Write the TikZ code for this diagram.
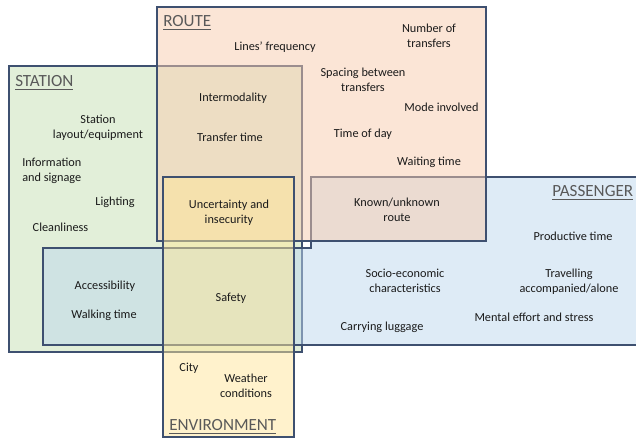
\documentclass[tikz,border=0pt]{standalone}
\usepackage{fontspec}
\setmainfont{Carlito}
\definecolor{edgec}{HTML}{3E5070}
\definecolor{stationc}{HTML}{C5E0B4}
\definecolor{routec}{HTML}{F8CBAD}
\definecolor{passc}{HTML}{BDD7EE}
\definecolor{envc}{HTML}{FFE699}
\definecolor{txt}{HTML}{1A1A1A}
\definecolor{headc}{HTML}{595959}
\begin{document}
\begin{tikzpicture}[x=0.75pt,y=-0.75pt,
  region/.style={draw=edgec, line width=0.9pt, fill opacity=0.5},
  lbl/.style={font=\fontsize{9.2}{11.25}\selectfont, text=txt, align=center, inner sep=0pt},
  head/.style={font=\fontsize{12.8}{15}\selectfont, text=headc, anchor=base west, inner sep=0pt}]
\useasboundingbox (0,0) rectangle (636,438);
\clip (0,0) rectangle (636,438);
% regions
\draw[region, fill=stationc] (9,66) rectangle (302,352);
\draw[region, fill=passc] (311,177) -- (660,177) -- (660,345) -- (43,345) -- (43,248) -- (311,248) -- cycle;
\draw[region, fill=routec] (157,7) rectangle (486,241);
\draw[region, fill=envc] (163,177) rectangle (294,437);
% headings
\node[head] (hroute) at (163,27) {\underline{ROUTE}};
\node[head] (hstation) at (15,87) {\underline{STATION}};
\node[head] (hpass) at (552,197) {\underline{PASSENGER}};
\node[head] (henv) at (169,431) {\underline{ENVIRONMENT}};
% route
\node[lbl] (freq) at (275,47) {Lines’ frequency};
\node[lbl] (ntrans) at (429,36) {Number of\\transfers};
\node[lbl] (spacing) at (363,80) {Spacing between\\transfers};
\node[lbl] (mode) at (441.5,107) {Mode involved};
\node[lbl] (tod) at (363,134) {Time of day};
\node[lbl] (wait) at (429,162) {Waiting time};
\node[lbl] (inter) at (233,98) {Intermodality};
\node[lbl] (ttime) at (230,137) {Transfer time};
\node[lbl] (known) at (397,210) {Known/unknown\\route};
% station
\node[lbl] (layout) at (98,127.5) {Station\\layout/equipment};
\node[lbl, align=left, anchor=west] (info) at (22,170.5) {Information\\and signage};
\node[lbl] (light) at (115,202) {Lighting};
\node[lbl] (clean) at (60.5,227) {Cleanliness};
\node[lbl] (access) at (105,286) {Accessibility};
\node[lbl] (walk) at (104,315) {Walking time};
\node[lbl] (uncert) at (229,213) {Uncertainty and\\insecurity};
\node[lbl] (safety) at (231,298) {Safety};
% passenger
\node[lbl] (prod) at (573,236) {Productive time};
\node[lbl] (socio) at (405,281) {Socio-economic\\characteristics};
\node[lbl] (travel) at (569,282) {Travelling\\accompanied/alone};
\node[lbl] (mental) at (534,317) {Mental effort and stress};
\node[lbl] (lug) at (382,327) {Carrying luggage};
% environment
\node[lbl] (city) at (189,368) {City};
\node[lbl] (weather) at (246,385.5) {Weather\\conditions};
\end{tikzpicture}
\end{document}
